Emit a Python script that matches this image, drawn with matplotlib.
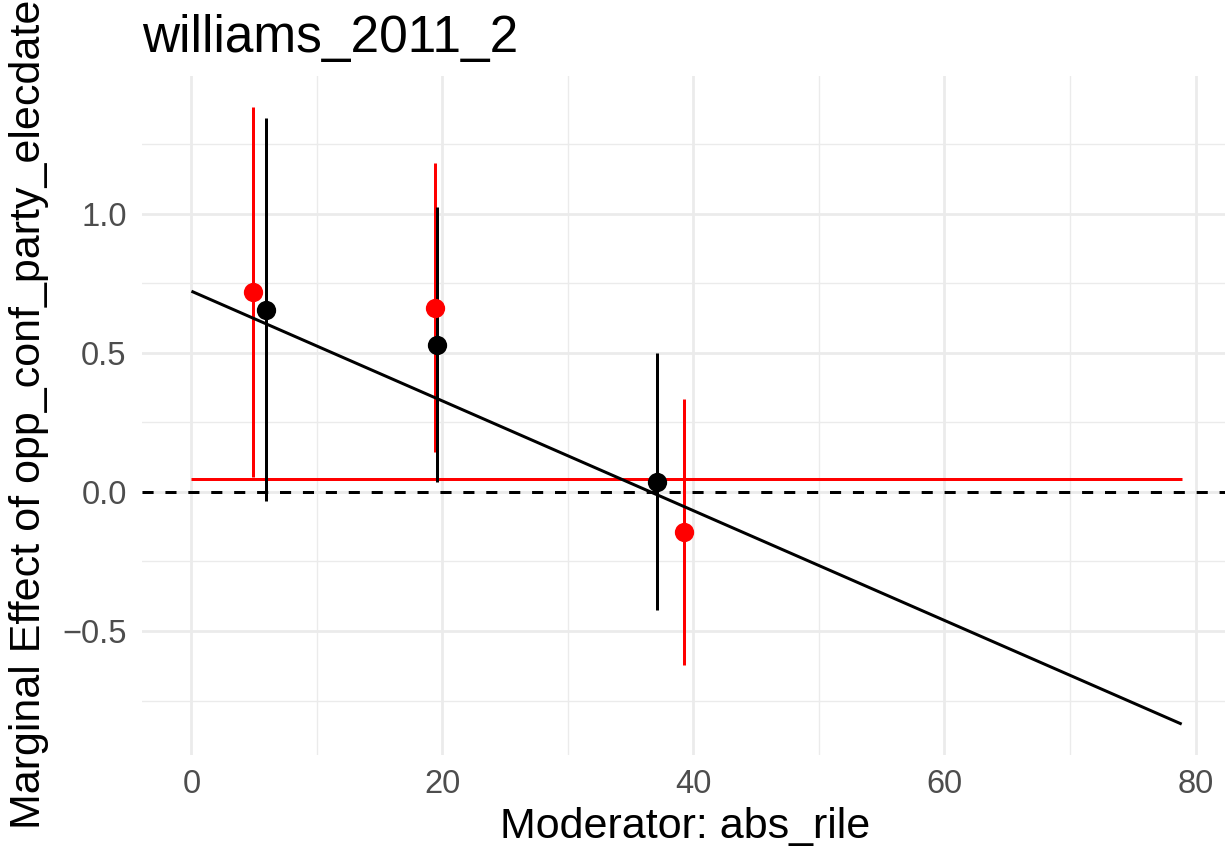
import matplotlib.pyplot as plt
from matplotlib.ticker import MultipleLocator

plt.rcParams["font.family"] = ["Liberation Sans", "DejaVu Sans"]

# binned estimates, red set
red_x = [4.92, 19.4, 39.27]
red_est = [0.720, 0.662, -0.143]
red_lo = [0.053, 0.144, -0.623]
red_hi = [1.385, 1.183, 0.336]

# binned estimates, black set
black_x = [5.94, 19.59, 37.07]
black_est = [0.656, 0.530, 0.036]
black_lo = [-0.032, 0.036, -0.425]
black_hi = [1.345, 1.024, 0.498]

# moderator range with constant and linear marginal effect
mod_range = [0.0, 78.9]
const_effect = [0.046, 0.046]
linear_effect = [0.722, -0.835]

W, H = 1230, 850
fig = plt.figure(figsize=(W / 100, H / 100), dpi=100)
ax = fig.add_axes([142 / W, 1 - 755 / H, (1225 - 142) / W, (755 - 76) / H])

for s in ax.spines.values():
    s.set_visible(False)

grid = "#EBEBEB"
ax.xaxis.set_major_locator(MultipleLocator(20))
ax.xaxis.set_minor_locator(MultipleLocator(10))
ax.yaxis.set_major_locator(MultipleLocator(0.5))
ax.yaxis.set_minor_locator(MultipleLocator(0.25))
ax.grid(True, which="major", color=grid, lw=2.0, zorder=0)
ax.grid(True, which="minor", color=grid, lw=1.0, zorder=0)
ax.set_axisbelow(True)
ax.tick_params(which="both", length=0, colors="#4D4D4D", labelsize=23.5)
ax.tick_params(axis="x", pad=10)
ax.tick_params(axis="y", pad=11)
ax.set_yticks([-0.5, 0.0, 0.5, 1.0])
ax.set_yticklabels(["\u22120.5", "0.0", "0.5", "1.0"])

lw = 2.16
ax.axhline(0, color="black", lw=lw, linestyle=(0, (8 / lw, 8.5 / lw)), zorder=2)
ax.plot(mod_range, const_effect, color="red", lw=lw, solid_capstyle="butt", zorder=3)

ax.vlines(red_x, red_lo, red_hi, color="red", lw=lw, zorder=4)
ax.vlines(black_x, black_lo, black_hi, color="black", lw=lw, zorder=4)
ax.plot(mod_range, linear_effect, color="black", lw=lw, solid_capstyle="butt", zorder=5)

ax.plot(black_x, black_est, "o", color="black", ms=13.9, mew=0, zorder=6)
ax.plot(red_x, red_est, "o", color="red", ms=13.9, mew=0, zorder=6)

ax.set_xlim(-3.94, 82.35)
ax.set_ylim(-0.946, 1.496)

fig.text(142 / W, 1 - 52 / H, "williams_2011_2", fontsize=37, va="baseline", ha="left")
fig.text(685 / W, 1 - 838 / H, "Moderator: abs_rile", fontsize=31, va="baseline", ha="center")
fig.text(9 / W, 1 - 414 / H, "Marginal Effect of opp_conf_party_elecdate", fontsize=31,
         rotation=90, ha="left", va="center")

fig.savefig("out.png", dpi=100)
